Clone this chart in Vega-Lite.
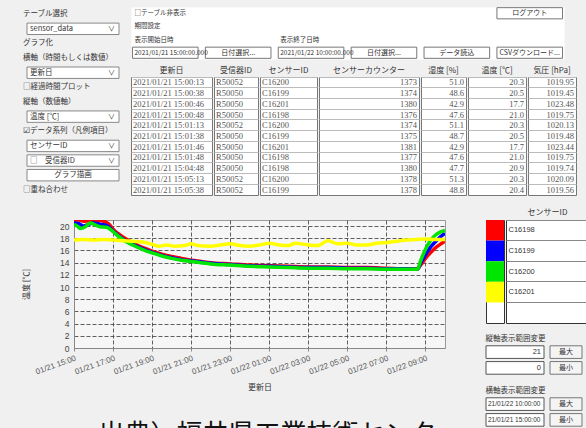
{
  "$schema": "https://vega.github.io/schema/vega-lite/v6.json",
  "padding": {"left": 22, "top": 6, "right": 0, "bottom": 0},
  "background": "#f0f0f0",
  "config": {
    "font": "Noto Sans CJK JP",
    "view": {"stroke": "#888"},
    "title": {"fontWeight": "normal", "fontSize": 8, "color": "#333", "font": "Noto Sans CJK JP"},
    "axis": {"titleFontWeight": "normal"}
  },
  "datasets": {
    "temps": [
      {"s":"C16198","t":"2021-01-21T15:00","v":21.0},{"s":"C16198","t":"2021-01-21T15:15","v":21.0},{"s":"C16198","t":"2021-01-21T15:30","v":20.8},{"s":"C16198","t":"2021-01-21T15:45","v":20.9},{"s":"C16198","t":"2021-01-21T16:00","v":20.9},{"s":"C16198","t":"2021-01-21T16:20","v":20.9},{"s":"C16198","t":"2021-01-21T16:40","v":20.6},{"s":"C16198","t":"2021-01-21T16:50","v":20.2},{"s":"C16198","t":"2021-01-21T17:00","v":19.5},{"s":"C16198","t":"2021-01-21T17:15","v":18.8},{"s":"C16198","t":"2021-01-21T17:30","v":18.2},{"s":"C16198","t":"2021-01-21T17:45","v":17.7},{"s":"C16198","t":"2021-01-21T18:00","v":17.3},{"s":"C16198","t":"2021-01-21T18:30","v":16.5},{"s":"C16198","t":"2021-01-21T19:00","v":15.9},{"s":"C16198","t":"2021-01-21T19:30","v":15.4},{"s":"C16198","t":"2021-01-21T20:00","v":15.0},{"s":"C16198","t":"2021-01-21T20:30","v":14.7},{"s":"C16198","t":"2021-01-21T21:00","v":14.4},{"s":"C16198","t":"2021-01-21T21:30","v":14.2},{"s":"C16198","t":"2021-01-21T22:00","v":14.0},{"s":"C16198","t":"2021-01-21T23:00","v":13.8},{"s":"C16198","t":"2021-01-22T00:00","v":13.6},{"s":"C16198","t":"2021-01-22T01:00","v":13.5},{"s":"C16198","t":"2021-01-22T02:00","v":13.4},{"s":"C16198","t":"2021-01-22T03:00","v":13.3},{"s":"C16198","t":"2021-01-22T04:00","v":13.3},{"s":"C16198","t":"2021-01-22T05:00","v":13.2},{"s":"C16198","t":"2021-01-22T06:00","v":13.2},{"s":"C16198","t":"2021-01-22T07:00","v":13.1},{"s":"C16198","t":"2021-01-22T08:00","v":13.0},{"s":"C16198","t":"2021-01-22T08:35","v":13.0},{"s":"C16198","t":"2021-01-22T08:45","v":13.6},{"s":"C16198","t":"2021-01-22T09:00","v":14.7},{"s":"C16198","t":"2021-01-22T09:15","v":15.6},{"s":"C16198","t":"2021-01-22T09:30","v":16.4},{"s":"C16198","t":"2021-01-22T09:45","v":17.0},{"s":"C16198","t":"2021-01-22T10:00","v":17.5},
      {"s":"C16199","t":"2021-01-21T15:00","v":20.5},{"s":"C16199","t":"2021-01-21T15:15","v":20.4},{"s":"C16199","t":"2021-01-21T15:30","v":20.0},{"s":"C16199","t":"2021-01-21T15:45","v":20.3},{"s":"C16199","t":"2021-01-21T16:00","v":20.5},{"s":"C16199","t":"2021-01-21T16:20","v":20.3},{"s":"C16199","t":"2021-01-21T16:40","v":20.1},{"s":"C16199","t":"2021-01-21T17:00","v":19.2},{"s":"C16199","t":"2021-01-21T17:15","v":18.5},{"s":"C16199","t":"2021-01-21T17:30","v":17.9},{"s":"C16199","t":"2021-01-21T17:45","v":17.4},{"s":"C16199","t":"2021-01-21T18:00","v":17.0},{"s":"C16199","t":"2021-01-21T18:30","v":16.3},{"s":"C16199","t":"2021-01-21T19:00","v":15.7},{"s":"C16199","t":"2021-01-21T19:30","v":15.2},{"s":"C16199","t":"2021-01-21T20:00","v":14.8},{"s":"C16199","t":"2021-01-21T20:30","v":14.5},{"s":"C16199","t":"2021-01-21T21:00","v":14.3},{"s":"C16199","t":"2021-01-21T21:30","v":14.1},{"s":"C16199","t":"2021-01-21T22:00","v":13.9},{"s":"C16199","t":"2021-01-21T23:00","v":13.7},{"s":"C16199","t":"2021-01-22T00:00","v":13.5},{"s":"C16199","t":"2021-01-22T01:00","v":13.4},{"s":"C16199","t":"2021-01-22T02:00","v":13.3},{"s":"C16199","t":"2021-01-22T03:00","v":13.2},{"s":"C16199","t":"2021-01-22T04:00","v":13.2},{"s":"C16199","t":"2021-01-22T05:00","v":13.1},{"s":"C16199","t":"2021-01-22T06:00","v":13.1},{"s":"C16199","t":"2021-01-22T07:00","v":13.0},{"s":"C16199","t":"2021-01-22T08:00","v":13.0},{"s":"C16199","t":"2021-01-22T08:35","v":12.9},{"s":"C16199","t":"2021-01-22T08:45","v":13.9},{"s":"C16199","t":"2021-01-22T09:00","v":15.3},{"s":"C16199","t":"2021-01-22T09:15","v":16.5},{"s":"C16199","t":"2021-01-22T09:30","v":17.4},{"s":"C16199","t":"2021-01-22T09:45","v":18.2},{"s":"C16199","t":"2021-01-22T10:00","v":18.8},
      {"s":"C16200","t":"2021-01-21T15:00","v":20.3},{"s":"C16200","t":"2021-01-21T15:10","v":20.0},{"s":"C16200","t":"2021-01-21T15:20","v":19.6},{"s":"C16200","t":"2021-01-21T15:35","v":19.9},{"s":"C16200","t":"2021-01-21T15:50","v":20.5},{"s":"C16200","t":"2021-01-21T16:05","v":20.2},{"s":"C16200","t":"2021-01-21T16:20","v":19.9},{"s":"C16200","t":"2021-01-21T16:40","v":19.8},{"s":"C16200","t":"2021-01-21T17:00","v":19.1},{"s":"C16200","t":"2021-01-21T17:15","v":18.4},{"s":"C16200","t":"2021-01-21T17:30","v":17.8},{"s":"C16200","t":"2021-01-21T17:45","v":17.3},{"s":"C16200","t":"2021-01-21T18:00","v":16.9},{"s":"C16200","t":"2021-01-21T18:30","v":16.2},{"s":"C16200","t":"2021-01-21T19:00","v":15.6},{"s":"C16200","t":"2021-01-21T19:30","v":15.1},{"s":"C16200","t":"2021-01-21T20:00","v":14.7},{"s":"C16200","t":"2021-01-21T20:30","v":14.4},{"s":"C16200","t":"2021-01-21T21:00","v":14.2},{"s":"C16200","t":"2021-01-21T21:30","v":14.0},{"s":"C16200","t":"2021-01-21T22:00","v":13.8},{"s":"C16200","t":"2021-01-21T23:00","v":13.6},{"s":"C16200","t":"2021-01-22T00:00","v":13.4},{"s":"C16200","t":"2021-01-22T01:00","v":13.3},{"s":"C16200","t":"2021-01-22T02:00","v":13.2},{"s":"C16200","t":"2021-01-22T03:00","v":13.1},{"s":"C16200","t":"2021-01-22T04:00","v":13.1},{"s":"C16200","t":"2021-01-22T05:00","v":13.0},{"s":"C16200","t":"2021-01-22T06:00","v":13.0},{"s":"C16200","t":"2021-01-22T07:00","v":12.9},{"s":"C16200","t":"2021-01-22T08:00","v":12.9},{"s":"C16200","t":"2021-01-22T08:35","v":12.9},{"s":"C16200","t":"2021-01-22T08:45","v":14.3},{"s":"C16200","t":"2021-01-22T09:00","v":16.2},{"s":"C16200","t":"2021-01-22T09:15","v":17.6},{"s":"C16200","t":"2021-01-22T09:30","v":18.5},{"s":"C16200","t":"2021-01-22T09:45","v":19.0},{"s":"C16200","t":"2021-01-22T10:00","v":19.3},
      {"s":"C16201","t":"2021-01-21T15:00","v":17.7},{"s":"C16201","t":"2021-01-21T15:30","v":17.8},{"s":"C16201","t":"2021-01-21T16:00","v":17.7},{"s":"C16201","t":"2021-01-21T16:30","v":17.8},{"s":"C16201","t":"2021-01-21T17:00","v":17.7},{"s":"C16201","t":"2021-01-21T17:30","v":17.6},{"s":"C16201","t":"2021-01-21T18:00","v":17.5},{"s":"C16201","t":"2021-01-21T18:30","v":17.4},{"s":"C16201","t":"2021-01-21T19:00","v":17.0},{"s":"C16201","t":"2021-01-21T19:20","v":16.7},{"s":"C16201","t":"2021-01-21T19:45","v":16.9},{"s":"C16201","t":"2021-01-21T20:10","v":16.7},{"s":"C16201","t":"2021-01-21T20:40","v":16.8},{"s":"C16201","t":"2021-01-21T21:00","v":17.1},{"s":"C16201","t":"2021-01-21T21:20","v":16.8},{"s":"C16201","t":"2021-01-21T22:00","v":16.7},{"s":"C16201","t":"2021-01-21T22:30","v":16.9},{"s":"C16201","t":"2021-01-21T23:00","v":17.1},{"s":"C16201","t":"2021-01-21T23:30","v":16.8},{"s":"C16201","t":"2021-01-22T00:00","v":16.7},{"s":"C16201","t":"2021-01-22T00:30","v":16.9},{"s":"C16201","t":"2021-01-22T01:00","v":17.2},{"s":"C16201","t":"2021-01-22T01:30","v":16.9},{"s":"C16201","t":"2021-01-22T02:00","v":16.8},{"s":"C16201","t":"2021-01-22T02:20","v":17.2},{"s":"C16201","t":"2021-01-22T03:00","v":16.9},{"s":"C16201","t":"2021-01-22T03:30","v":16.8},{"s":"C16201","t":"2021-01-22T04:00","v":17.6},{"s":"C16201","t":"2021-01-22T04:30","v":17.1},{"s":"C16201","t":"2021-01-22T05:00","v":17.2},{"s":"C16201","t":"2021-01-22T05:30","v":16.9},{"s":"C16201","t":"2021-01-22T06:00","v":16.9},{"s":"C16201","t":"2021-01-22T06:30","v":17.2},{"s":"C16201","t":"2021-01-22T07:00","v":17.3},{"s":"C16201","t":"2021-01-22T07:30","v":17.5},{"s":"C16201","t":"2021-01-22T08:00","v":17.7},{"s":"C16201","t":"2021-01-22T08:30","v":17.8},{"s":"C16201","t":"2021-01-22T09:00","v":17.9},{"s":"C16201","t":"2021-01-22T09:30","v":17.8},{"s":"C16201","t":"2021-01-22T10:00","v":17.8}
    ],
    "table": [
      {"date":"2021/01/21 15:00:13","rx":"R50052","sensor":"C16200","count":1373,"hum":51.0,"temp":20.3,"pres":1019.95},
      {"date":"2021/01/21 15:00:38","rx":"R50050","sensor":"C16199","count":1374,"hum":48.6,"temp":20.5,"pres":1019.45},
      {"date":"2021/01/21 15:00:46","rx":"R50050","sensor":"C16201","count":1380,"hum":42.9,"temp":17.7,"pres":1023.48},
      {"date":"2021/01/21 15:00:48","rx":"R50050","sensor":"C16198","count":1376,"hum":47.6,"temp":21.0,"pres":1019.75},
      {"date":"2021/01/21 15:01:13","rx":"R50052","sensor":"C16200","count":1374,"hum":51.1,"temp":20.3,"pres":1020.13},
      {"date":"2021/01/21 15:01:38","rx":"R50050","sensor":"C16199","count":1375,"hum":48.7,"temp":20.5,"pres":1019.48},
      {"date":"2021/01/21 15:01:46","rx":"R50050","sensor":"C16201","count":1381,"hum":42.9,"temp":17.7,"pres":1023.44},
      {"date":"2021/01/21 15:01:48","rx":"R50050","sensor":"C16198","count":1377,"hum":47.6,"temp":21.0,"pres":1019.75},
      {"date":"2021/01/21 15:04:48","rx":"R50050","sensor":"C16198","count":1380,"hum":47.7,"temp":20.9,"pres":1019.74},
      {"date":"2021/01/21 15:05:13","rx":"R50052","sensor":"C16200","count":1378,"hum":51.3,"temp":20.3,"pres":1020.09},
      {"date":"2021/01/21 15:05:38","rx":"R50052","sensor":"C16199","count":1378,"hum":48.8,"temp":20.4,"pres":1019.56}
    ],
    "controls": [
      {"item":"テーブル選択","kind":"label"},
      {"item":"sensor_data","kind":"select"},
      {"item":"グラフ化","kind":"label"},
      {"item":"横軸（時間もしくは数値）","kind":"label"},
      {"item":"更新日","kind":"select"},
      {"item":"□経過時間プロット","kind":"label"},
      {"item":"縦軸（数値軸）","kind":"label"},
      {"item":"温度 [℃]","kind":"select"},
      {"item":"☑データ系列（凡例項目）","kind":"label"},
      {"item":"センサーID","kind":"select"},
      {"item":"□　受信器ID","kind":"select"},
      {"item":"グラフ描画","kind":"button"},
      {"item":"□重ね合わせ","kind":"label"}
    ],
    "topbar": [
      {"line":"a","slot":"開始日時","text":"□テーブル非表示","kind":"label"},
      {"line":"a","slot":"CSV","text":"ログアウト","kind":"button"},
      {"line":"b","slot":"開始日時","text":"期間設定","kind":"label"},
      {"line":"c","slot":"開始日時","text":"表示開始日時","kind":"label"},
      {"line":"c","slot":"終了日時","text":"表示終了日時","kind":"label"},
      {"line":"d","slot":"開始日時","text":"2021/01/21 15:00:00.000","kind":"input"},
      {"line":"d","slot":"開始選択","text":"日付選択...","kind":"button"},
      {"line":"d","slot":"終了日時","text":"2021/01/22 10:00:00.000","kind":"input"},
      {"line":"d","slot":"終了選択","text":"日付選択...","kind":"button"},
      {"line":"d","slot":"読込","text":"データ読込","kind":"button"},
      {"line":"d","slot":"CSV","text":"CSVダウンロード...","kind":"button"}
    ],
    "sensors": [{"sensor":"C16198"},{"sensor":"C16199"},{"sensor":"C16200"},{"sensor":"C16201"}],
    "range": [
      {"grp":"縦","row":"max","value":"21","btn":"最大"},
      {"grp":"縦","row":"min","value":"0","btn":"最小"},
      {"grp":"横","row":"max","value":"21/01/22 10:00:00","btn":"最大"},
      {"grp":"横","row":"min","value":"21/01/21 15:00:00","btn":"最小"}
    ],
    "caption": [{"text":"出典）福井県工業技術センター"}]
  },
  "spacing": 10,
  "vconcat": [
    {
      "spacing": 10,
      "hconcat": [
        {
          "data": {"name": "controls"},
          "width": 45, "height": 190,
          "view": {"stroke": "transparent"},
          "encoding": {
            "y": {"field": "item", "type": "nominal", "scale": {"type": "band", "domain": ["テーブル選択","sensor_data","グラフ化","横軸（時間もしくは数値）","更新日","□経過時間プロット","縦軸（数値軸）","温度 [℃]","☑データ系列（凡例項目）","センサーID","□　受信器ID","グラフ描画","□重ね合わせ"], "paddingInner": 0.22, "paddingOuter": 0.1}, "axis": null}
          },
          "layer": [
            {"transform": [{"filter": "datum.kind !== 'label'"}],
             "mark": {"type": "rect", "fill": "white", "stroke": "#888"},
             "encoding": {
               "x": {"datum": 0, "type": "quantitative", "scale": {"domain": [0, 1], "range": [-47, 45]}, "axis": null},
               "x2": {"datum": 1}}},
            {"transform": [{"filter": "datum.kind === 'label'"}],
             "mark": {"type": "text", "align": "left", "dx": -4, "fontSize": 7.5, "color": "#333"},
             "encoding": {"x": {"datum": 0, "type": "quantitative"}, "text": {"field": "item"}}},
            {"transform": [{"filter": "datum.kind === 'select'"}],
             "mark": {"type": "text", "align": "left", "dx": 3, "fontSize": 7.5, "color": "#333"},
             "encoding": {"x": {"datum": 0, "type": "quantitative"}, "text": {"field": "item"}}},
            {"transform": [{"filter": "datum.kind === 'button'"}],
             "mark": {"type": "text", "fontSize": 7.5, "color": "#333"},
             "encoding": {"x": {"datum": 0.5, "type": "quantitative"}, "text": {"field": "item"}}},
            {"transform": [{"filter": "datum.kind === 'select'"}],
             "mark": {"type": "text", "align": "right", "dx": -4, "fontSize": 7, "color": "#333", "text": "∨"},
             "encoding": {"x": {"datum": 1, "type": "quantitative"}}}
          ]
        },
        {
          "spacing": 6,
          "vconcat": [
            {
              "data": {"name": "topbar"},
              "width": 433, "height": 52,
              "view": {"stroke": "transparent", "fill": "white"},
              "layer": [
                {"transform": [{"filter": "datum.kind !== 'label'"}],
                 "mark": {"type": "rect", "fill": "white", "stroke": "#777"},
                 "encoding": {
                   "x": {"field": "slot", "type": "nominal", "scale": {"type": "band", "domain": ["開始日時","開始選択","終了日時","終了選択","読込","CSV"], "paddingInner": 0.1, "paddingOuter": 0.02}, "axis": null},
                   "y": {"field": "line", "type": "nominal", "scale": {"type": "band", "domain": ["a","b","c","d"], "paddingInner": 0.15, "paddingOuter": 0.05}, "axis": null}}},
                {"transform": [{"filter": "datum.kind !== 'button'"}],
                 "mark": {"type": "text", "align": "left", "dx": 2, "fontSize": 6.5, "color": "#333"},
                 "encoding": {
                   "x": {"field": "slot", "type": "nominal", "bandPosition": 0, "axis": null},
                   "y": {"field": "line", "type": "nominal", "axis": null},
                   "text": {"field": "text"}}},
                {"transform": [{"filter": "datum.kind === 'button'"}],
                 "mark": {"type": "text", "fontSize": 7, "color": "#333"},
                 "encoding": {
                   "x": {"field": "slot", "type": "nominal", "axis": null},
                   "y": {"field": "line", "type": "nominal", "axis": null},
                   "text": {"field": "text"}}}
              ]
            },
            {
              "spacing": 0,
              "hconcat": [
                {"data": {"name": "table"}, "width": 81, "height": 118, "view": {"fill": "white", "stroke": "#777"},
                 "title": {"text": "更新日", "anchor": "middle", "offset": 2},
                 "mark": {"type": "text", "align": "left", "dx": -38.5, "font": "Liberation Serif", "fontSize": 8.5, "color": "#555"},
                 "encoding": {"y": {"field": "date", "type": "ordinal", "title": null, "scale": {"type": "band", "paddingInner": 0, "paddingOuter": 0}, "axis": {"labels": false, "ticks": false, "domain": false, "grid": true, "bandPosition": 0, "gridColor": "#bbb", "minExtent": 0, "maxExtent": 0}}, "text": {"field": "date"}}},
                {"data": {"name": "table"}, "width": 44, "height": 118, "view": {"fill": "white", "stroke": "#777"},
                 "title": {"text": "受信器ID", "anchor": "middle", "offset": 2},
                 "mark": {"type": "text", "align": "left", "dx": -20, "font": "Liberation Serif", "fontSize": 8.5, "color": "#555"},
                 "encoding": {"y": {"field": "date", "type": "ordinal", "title": null, "scale": {"type": "band", "paddingInner": 0, "paddingOuter": 0}, "axis": {"labels": false, "ticks": false, "domain": false, "grid": true, "bandPosition": 0, "gridColor": "#bbb", "minExtent": 0, "maxExtent": 0}}, "text": {"field": "rx"}}},
                {"data": {"name": "table"}, "width": 57, "height": 118, "view": {"fill": "white", "stroke": "#777"},
                 "title": {"text": "センサーID", "anchor": "middle", "offset": 2},
                 "mark": {"type": "text", "align": "left", "dx": -26.5, "font": "Liberation Serif", "fontSize": 8.5, "color": "#555"},
                 "encoding": {"y": {"field": "date", "type": "ordinal", "title": null, "scale": {"type": "band", "paddingInner": 0, "paddingOuter": 0}, "axis": {"labels": false, "ticks": false, "domain": false, "grid": true, "bandPosition": 0, "gridColor": "#bbb", "minExtent": 0, "maxExtent": 0}}, "text": {"field": "sensor"}}},
                {"data": {"name": "table"}, "width": 100, "height": 118, "view": {"fill": "white", "stroke": "#777"},
                 "title": {"text": "センサーカウンター", "anchor": "middle", "offset": 2},
                 "mark": {"type": "text", "align": "right", "dx": 48, "font": "Liberation Serif", "fontSize": 8.5, "color": "#555"},
                 "encoding": {"y": {"field": "date", "type": "ordinal", "title": null, "scale": {"type": "band", "paddingInner": 0, "paddingOuter": 0}, "axis": {"labels": false, "ticks": false, "domain": false, "grid": true, "bandPosition": 0, "gridColor": "#bbb", "minExtent": 0, "maxExtent": 0}}, "text": {"field": "count", "type": "quantitative", "format": "d"}}},
                {"data": {"name": "table"}, "width": 45, "height": 118, "view": {"fill": "white", "stroke": "#777"},
                 "title": {"text": "湿度 [%]", "anchor": "middle", "offset": 2},
                 "mark": {"type": "text", "align": "right", "dx": 20.5, "font": "Liberation Serif", "fontSize": 8.5, "color": "#555"},
                 "encoding": {"y": {"field": "date", "type": "ordinal", "title": null, "scale": {"type": "band", "paddingInner": 0, "paddingOuter": 0}, "axis": {"labels": false, "ticks": false, "domain": false, "grid": true, "bandPosition": 0, "gridColor": "#bbb", "minExtent": 0, "maxExtent": 0}}, "text": {"field": "hum", "type": "quantitative", "format": ".1f"}}},
                {"data": {"name": "table"}, "width": 58, "height": 118, "view": {"fill": "white", "stroke": "#777"},
                 "title": {"text": "温度 [℃]", "anchor": "middle", "offset": 2},
                 "mark": {"type": "text", "align": "right", "dx": 27, "font": "Liberation Serif", "fontSize": 8.5, "color": "#555"},
                 "encoding": {"y": {"field": "date", "type": "ordinal", "title": null, "scale": {"type": "band", "paddingInner": 0, "paddingOuter": 0}, "axis": {"labels": false, "ticks": false, "domain": false, "grid": true, "bandPosition": 0, "gridColor": "#bbb", "minExtent": 0, "maxExtent": 0}}, "text": {"field": "temp", "type": "quantitative", "format": ".1f"}}},
                {"data": {"name": "table"}, "width": 48, "height": 118, "view": {"fill": "white", "stroke": "#777"},
                 "title": {"text": "気圧 [hPa]", "anchor": "middle", "offset": 2},
                 "mark": {"type": "text", "align": "right", "dx": 22, "font": "Liberation Serif", "fontSize": 8.5, "color": "#555"},
                 "encoding": {"y": {"field": "date", "type": "ordinal", "title": null, "scale": {"type": "band", "paddingInner": 0, "paddingOuter": 0}, "axis": {"labels": false, "ticks": false, "domain": false, "grid": true, "bandPosition": 0, "gridColor": "#bbb", "minExtent": 0, "maxExtent": 0}}, "text": {"field": "pres", "type": "quantitative", "format": ".2f"}}}
              ]
            }
          ]
        }
      ]
    },
    {
      "spacing": 21,
      "hconcat": [
        {
          "spacing": 28,
          "vconcat": [
            {
              "data": {"name": "temps"},
              "width": 371, "height": 128,
              "view": {"fill": "#f6f6f6", "stroke": "#999"},
              "mark": {"type": "line", "strokeWidth": 3.5, "clip": true, "interpolate": "monotone"},
              "encoding": {
                "x": {"field": "t", "type": "temporal", "title": "更新日",
                      "scale": {"domain": [{"year": 2021, "month": 1, "date": 21, "hours": 15}, {"year": 2021, "month": 1, "date": 22, "hours": 10}]},
                      "axis": {"values": [
                        {"year": 2021, "month": 1, "date": 21, "hours": 15}, {"year": 2021, "month": 1, "date": 21, "hours": 17}, {"year": 2021, "month": 1, "date": 21, "hours": 19}, {"year": 2021, "month": 1, "date": 21, "hours": 21}, {"year": 2021, "month": 1, "date": 21, "hours": 23},
                        {"year": 2021, "month": 1, "date": 22, "hours": 1}, {"year": 2021, "month": 1, "date": 22, "hours": 3}, {"year": 2021, "month": 1, "date": 22, "hours": 5}, {"year": 2021, "month": 1, "date": 22, "hours": 7}, {"year": 2021, "month": 1, "date": 22, "hours": 9}],
                        "format": "%m/%d %H:%M", "labelAngle": -20, "labelAlign": "right", "labelBaseline": "top", "labelFont": "Liberation Sans", "labelFontSize": 8, "labelColor": "#555", "labelOverlap": false, "labelFlush": false, "labelPadding": 3,
                        "tickSize": 3, "tickColor": "#888", "domainColor": "#888",
                        "grid": true, "gridColor": "#444", "gridDash": [4, 2], "gridOpacity": 0.85,
                        "titleFontSize": 8, "titleColor": "#333", "titlePadding": 8}},
                "y": {"field": "v", "type": "quantitative", "title": "温度 [℃]",
                      "scale": {"domain": [0, 21], "nice": false},
                      "axis": {"values": [0, 2, 4, 6, 8, 10, 12, 14, 16, 18, 20], "labelFont": "Liberation Sans", "labelFontSize": 8.5, "labelColor": "#444", "labelPadding": 5, "tickSize": 0, "domainColor": "#888",
                        "grid": true, "gridColor": "#444", "gridDash": [4, 2], "gridOpacity": 0.85,
                        "titleFontSize": 8, "titleColor": "#333", "titlePadding": 29}},
                "color": {"field": "s", "type": "nominal", "legend": null,
                          "scale": {"domain": ["C16198", "C16199", "C16200", "C16201"], "range": ["#ff0000", "#0000ff", "#00e600", "#ffff00"]}}
              }
            },
            {
              "data": {"name": "caption"},
              "width": 371, "height": 26,
              "view": {"stroke": "transparent"},
              "mark": {"type": "text", "fontSize": 26, "font": "Noto Sans CJK JP", "color": "#111", "dx": 21},
              "encoding": {"text": {"field": "text"}}
            }
          ]
        },
        {
          "spacing": 10,
          "vconcat": [
            {
              "spacing": 0,
              "hconcat": [
                {"data": {"name": "sensors"}, "width": 18, "height": 103, "view": {"stroke": "#333", "fill": "white"},
                 "mark": {"type": "rect"},
                 "encoding": {
                   "y": {"field": "sensor", "type": "nominal", "scale": {"type": "band", "domain": ["C16198", "C16199", "C16200", "C16201", " "], "paddingInner": 0, "paddingOuter": 0}, "axis": null},
                   "color": {"field": "sensor", "type": "nominal", "legend": null, "scale": {"domain": ["C16198", "C16199", "C16200", "C16201"], "range": ["#ff0000", "#0000ff", "#00e600", "#ffff00"]}}}},
                {"data": {"name": "sensors"}, "width": 83, "height": 103, "view": {"stroke": "#333", "fill": "white"},
                 "title": {"text": "センサーID", "anchor": "middle", "offset": 3},
                 "mark": {"type": "text", "align": "left", "dx": -39, "font": "Liberation Sans", "fontSize": 7.5, "color": "#333"},
                 "encoding": {
                   "y": {"field": "sensor", "type": "nominal", "title": null, "scale": {"type": "band", "domain": ["C16198", "C16199", "C16200", "C16201", " "], "paddingInner": 0, "paddingOuter": 0}, "axis": {"labels": false, "ticks": false, "domain": false, "grid": true, "bandPosition": 0, "gridColor": "#888", "minExtent": 0, "maxExtent": 0}},
                   "text": {"field": "sensor"}}}
              ]
            },
            {
              "spacing": 3,
              "hconcat": [
                {"data": {"name": "range"}, "width": 58, "height": 30, "view": {"stroke": "transparent"},
                 "title": {"text": "縦軸表示範囲変更", "anchor": "start", "offset": 3, "fontSize": 7.5},
                 "transform": [{"filter": "datum.grp === '縦'"}],
                 "layer": [
                   {"mark": {"type": "rect", "fill": "white", "stroke": "#555"},
                    "encoding": {"y": {"field": "row", "type": "nominal", "scale": {"type": "band", "domain": ["max", "min"], "paddingInner": 0.2, "paddingOuter": 0.05}, "axis": null}}},
                   {"mark": {"type": "text", "align": "right", "dx": 26, "font": "Liberation Sans", "fontSize": 7.5, "color": "#333"},
                    "encoding": {"y": {"field": "row", "type": "nominal", "axis": null}, "text": {"field": "value"}}}
                 ]},
                {"data": {"name": "range"}, "width": 32, "height": 30, "view": {"stroke": "transparent"},
                 "transform": [{"filter": "datum.grp === '縦'"}],
                 "layer": [
                   {"mark": {"type": "rect", "fill": "#f4f4f4", "stroke": "#777"},
                    "encoding": {"y": {"field": "row", "type": "nominal", "scale": {"type": "band", "domain": ["max", "min"], "paddingInner": 0.2, "paddingOuter": 0.05}, "axis": null}}},
                   {"mark": {"type": "text", "fontSize": 7, "color": "#333"},
                    "encoding": {"y": {"field": "row", "type": "nominal", "axis": null}, "text": {"field": "btn"}}}
                 ]}
              ]
            },
            {
              "spacing": 3,
              "hconcat": [
                {"data": {"name": "range"}, "width": 58, "height": 30, "view": {"stroke": "transparent"},
                 "title": {"text": "横軸表示範囲変更", "anchor": "start", "offset": 3, "fontSize": 7.5},
                 "transform": [{"filter": "datum.grp === '横'"}],
                 "layer": [
                   {"mark": {"type": "rect", "fill": "white", "stroke": "#555"},
                    "encoding": {"y": {"field": "row", "type": "nominal", "scale": {"type": "band", "domain": ["max", "min"], "paddingInner": 0.2, "paddingOuter": 0.05}, "axis": null}}},
                   {"mark": {"type": "text", "align": "left", "dx": -27, "font": "Liberation Sans", "fontSize": 6.5, "color": "#333"},
                    "encoding": {"y": {"field": "row", "type": "nominal", "axis": null}, "text": {"field": "value"}}}
                 ]},
                {"data": {"name": "range"}, "width": 32, "height": 30, "view": {"stroke": "transparent"},
                 "transform": [{"filter": "datum.grp === '横'"}],
                 "layer": [
                   {"mark": {"type": "rect", "fill": "#f4f4f4", "stroke": "#777"},
                    "encoding": {"y": {"field": "row", "type": "nominal", "scale": {"type": "band", "domain": ["max", "min"], "paddingInner": 0.2, "paddingOuter": 0.05}, "axis": null}}},
                   {"mark": {"type": "text", "fontSize": 7, "color": "#333"},
                    "encoding": {"y": {"field": "row", "type": "nominal", "axis": null}, "text": {"field": "btn"}}}
                 ]}
              ]
            }
          ]
        }
      ]
    }
  ]
}
